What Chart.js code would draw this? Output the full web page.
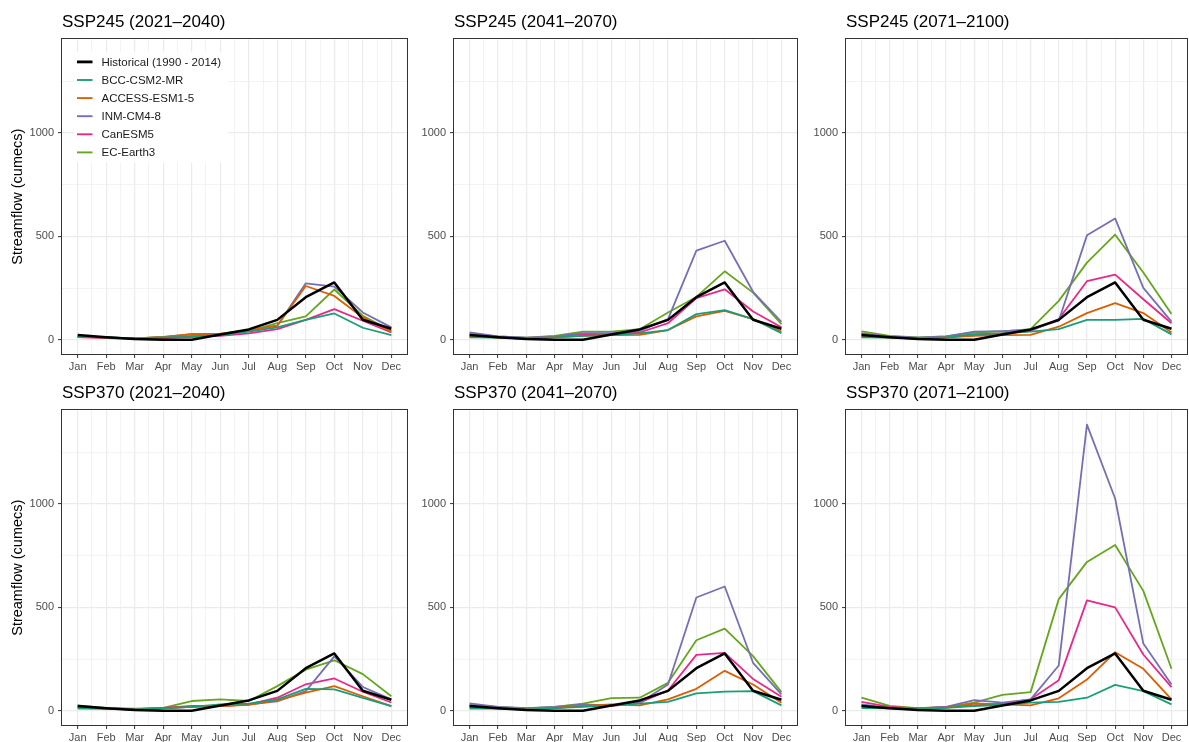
<!DOCTYPE html>
<html>
<head>
<meta charset="utf-8">
<script src="https://cdn.jsdelivr.net/npm/chart.js@4/dist/chart.umd.min.js"></script>
<style>
  body { margin: 0; background: #fff; width: 1189px; height: 742px; position: relative; overflow: hidden; }
  canvas { position: absolute; }
</style>
</head>
<body>
<script>
const months = ['Jan', 'Feb', 'Mar', 'Apr', 'May', 'Jun', 'Jul', 'Aug', 'Sep', 'Oct', 'Nov', 'Dec'];
const seriesNames = ['Historical (1990 - 2014)', 'BCC-CSM2-MR', 'ACCESS-ESM1-5', 'INM-CM4-8', 'CanESM5', 'EC-Earth3'];
const seriesColors = ['#000000', '#1B9E77', '#D95F02', '#7570B3', '#E7298A', '#66A61E'];
const yTicks = [0, 250, 500, 750, 1000, 1250];

// observed baseline, same in every panel
const historical = [23, 12, 4, 0, 0, 25, 50, 96, 206, 277, 97, 53];

// SSP245 (2021-2040)
const bcc245a = [14, 11, 6, 11, 14, 22, 39, 60, 96, 127, 58, 22];
const access245a = [16, 10, 6, 14, 27, 29, 47, 68, 260, 212, 108, 39];
const inm245a = [16, 11, 6, 13, 27, 22, 43, 68, 273, 257, 132, 60];
const can245a = [13, 8, 5, 8, 14, 19, 31, 51, 96, 148, 92, 35];
const ec245a = [13, 11, 6, 13, 19, 26, 43, 80, 113, 243, 116, 43];

// SSP245 (2041-2070)
const bcc245b = [11, 10, 6, 11, 19, 22, 31, 47, 124, 143, 100, 32];
const access245b = [16, 10, 6, 13, 19, 22, 24, 47, 113, 140, 100, 40];
const inm245b = [35, 16, 10, 16, 32, 32, 43, 100, 431, 479, 232, 87];
const can245b = [16, 11, 8, 14, 27, 27, 35, 80, 201, 244, 137, 60];
const ec245b = [27, 16, 10, 19, 39, 39, 51, 132, 207, 331, 228, 76];

// SSP245 (2071-2100)
const bcc245c = [11, 10, 6, 11, 27, 31, 39, 51, 96, 96, 101, 26];
const access245c = [16, 10, 6, 11, 19, 22, 24, 63, 129, 177, 129, 35];
const inm245c = [27, 16, 10, 16, 39, 42, 48, 92, 505, 587, 251, 88];
const can245c = [31, 14, 8, 11, 22, 31, 43, 100, 283, 315, 196, 80];
const ec245c = [40, 19, 11, 16, 35, 40, 51, 188, 373, 508, 325, 124];

// SSP370 (2021-2040)
const bcc370a = [11, 10, 6, 13, 19, 31, 34, 55, 106, 103, 62, 22];
const access370a = [11, 10, 6, 13, 19, 23, 29, 50, 88, 119, 70, 22];
const inm370a = [18, 10, 6, 11, 19, 23, 31, 45, 95, 263, 115, 55];
const can370a = [19, 11, 8, 14, 23, 23, 31, 63, 128, 156, 92, 40];
const ec370a = [26, 14, 10, 14, 47, 55, 47, 119, 199, 244, 177, 70];

// SSP370 (2041-2070)
const bcc370b = [10, 10, 6, 13, 19, 26, 34, 43, 84, 92, 95, 26];
const access370b = [19, 11, 8, 14, 23, 31, 26, 55, 106, 193, 127, 39];
const inm370b = [35, 19, 13, 18, 31, 26, 39, 127, 548, 601, 232, 79];
const can370b = [19, 13, 10, 14, 23, 23, 39, 98, 270, 280, 154, 68];
const ec370b = [27, 18, 11, 19, 34, 61, 63, 135, 341, 397, 264, 90];

// SSP370 (2071-2100)
const bcc370c = [13, 11, 8, 14, 23, 29, 39, 43, 63, 125, 95, 31];
const access370c = [23, 14, 10, 14, 35, 31, 26, 60, 151, 283, 203, 55];
const inm370c = [31, 14, 10, 19, 51, 39, 55, 219, 1384, 1027, 325, 127];
const can370c = [43, 19, 11, 18, 26, 34, 55, 148, 534, 500, 272, 114];
const ec370c = [63, 23, 13, 18, 39, 77, 90, 540, 720, 802, 580, 203];

const panels = [
  { title: 'SSP245 (2021\u20132040)', row: 0, col: 0, series: [historical, bcc245a, access245a, inm245a, can245a, ec245a] },
  { title: 'SSP245 (2041\u20132070)', row: 0, col: 1, series: [historical, bcc245b, access245b, inm245b, can245b, ec245b] },
  { title: 'SSP245 (2071\u20132100)', row: 0, col: 2, series: [historical, bcc245c, access245c, inm245c, can245c, ec245c] },
  { title: 'SSP370 (2021\u20132040)', row: 1, col: 0, series: [historical, bcc370a, access370a, inm370a, can370a, ec370a] },
  { title: 'SSP370 (2041\u20132070)', row: 1, col: 1, series: [historical, bcc370b, access370b, inm370b, can370b, ec370b] },
  { title: 'SSP370 (2071\u20132100)', row: 1, col: 2, series: [historical, bcc370c, access370c, inm370c, can370c, ec370c] },
];

const FONT = '"Liberation Sans", Arial, sans-serif';
const colLeft = [0, 404, 796];
const colWidth = [409, 395, 393];
const yAxisWidth = [62, 50, 50];
const rowTop = [0, 371];
const rowHeight = [376, 371];
const xAxisHeight = [22, 17];

// panel frame drawn over the plot, like ggplot's panel.border
const panelBorder = {
  id: 'panelBorder',
  afterDraw(chart) {
    const { ctx, chartArea: a } = chart;
    ctx.save();
    ctx.strokeStyle = '#333333';
    ctx.lineWidth = 1;
    const l = Math.round(a.left) - 0.5, t = Math.round(a.top) - 0.5;
    ctx.strokeRect(l, t, Math.round(a.right) - Math.round(a.left) + 1, Math.round(a.bottom) - Math.round(a.top) + 1);
    ctx.restore();
  }
};

// legend sitting inside the first panel
const insideLegend = {
  id: 'insideLegend',
  afterDatasetsDraw(chart, args, opts) {
    if (!opts.show) return;
    const { ctx, chartArea: a } = chart;
    ctx.save();
    ctx.fillStyle = '#ffffff';
    ctx.fillRect(a.left + 12, a.top + 13, 154, 110);
    ctx.font = '11.5px ' + FONT;
    ctx.textBaseline = 'middle';
    ctx.textAlign = 'left';
    chart.data.datasets.forEach((ds, i) => {
      const y = a.top + 22.5 + i * 18.1;
      ctx.strokeStyle = ds.borderColor;
      ctx.lineWidth = i === 0 ? 2.8 : 1.9;
      ctx.beginPath();
      ctx.moveTo(a.left + 15, y);
      ctx.lineTo(a.left + 30.5, y);
      ctx.stroke();
      ctx.fillStyle = '#1a1a1a';
      ctx.fillText(ds.label, a.left + 39.5, y + 0.5);
    });
    ctx.restore();
  }
};

const isMajorX = v => Number.isInteger(v);
const isMajorY = v => v % 500 === 0;

panels.forEach(p => {
  const canvas = document.createElement('canvas');
  canvas.width = colWidth[p.col];
  canvas.height = rowHeight[p.row];
  canvas.style.left = colLeft[p.col] + 'px';
  canvas.style.top = rowTop[p.row] + 'px';
  document.body.appendChild(canvas);

  const datasets = p.series.map((vals, i) => ({
    label: seriesNames[i],
    data: vals.map((v, m) => ({ x: m + 1, y: v })),
    borderColor: seriesColors[i],
    backgroundColor: seriesColors[i],
    borderWidth: i === 0 ? 2.5 : 1.8,
    borderJoinStyle: 'round',
    pointRadius: 0,
    tension: 0,
  }));

  new Chart(canvas, {
    type: 'line',
    data: { datasets },
    plugins: [panelBorder, insideLegend],
    options: {
      responsive: false,
      animation: false,
      devicePixelRatio: 1,
      layout: { padding: { left: 0, right: 2, top: 0, bottom: 0 } },
      plugins: {
        legend: { display: false },
        tooltip: { enabled: false },
        insideLegend: { show: p.row === 0 && p.col === 0 },
        title: {
          display: true,
          text: p.title,
          align: 'start',
          fullSize: false,
          color: '#000',
          font: { family: FONT, size: 17, weight: 'normal' },
          padding: { top: 12, bottom: 7 },
        },
      },
      scales: {
        x: {
          type: 'linear',
          bounds: 'data',
          min: 0.45,
          max: 12.55,
          afterBuildTicks: s => {
            const t = [];
            for (let v = 1; v <= 12; v += 0.5) t.push({ value: v });
            s.ticks = t;
          },
          afterFit: s => { s.height = xAxisHeight[p.row]; },
          border: { display: false },
          grid: {
            color: '#ebebeb',
            lineWidth: c => (c.tick && isMajorX(c.tick.value) ? 1.2 : 0.6),
            tickColor: c => (c.tick && isMajorX(c.tick.value) ? '#333333' : 'rgba(0,0,0,0)'),
            tickWidth: 1,
            tickLength: 4,
          },
          ticks: {
            autoSkip: false,
            maxRotation: 0,
            padding: 2,
            color: '#4d4d4d',
            font: { family: FONT, size: 11 },
            callback: v => (isMajorX(v) ? months[v - 1] : ''),
          },
        },
        y: {
          type: 'linear',
          bounds: 'data',
          min: -69,
          max: 1453,
          afterBuildTicks: s => { s.ticks = yTicks.map(v => ({ value: v })); },
          afterFit: s => { s.width = yAxisWidth[p.col]; },
          border: { display: false },
          grid: {
            color: '#ebebeb',
            lineWidth: c => (c.tick && isMajorY(c.tick.value) ? 1.2 : 0.6),
            tickColor: c => (c.tick && isMajorY(c.tick.value) ? '#333333' : 'rgba(0,0,0,0)'),
            tickWidth: 1,
            tickLength: 4,
          },
          ticks: {
            autoSkip: false,
            padding: 4,
            color: '#4d4d4d',
            font: { family: FONT, size: 11 },
            callback: v => (isMajorY(v) ? String(v) : ''),
          },
          title: {
            display: p.col === 0,
            text: 'Streamflow (cumecs)',
            color: '#000',
            font: { family: FONT, size: 14.5 },
            padding: { top: 9, bottom: 0 },
          },
        },
      },
    },
  });
});
</script>
</body>
</html>
